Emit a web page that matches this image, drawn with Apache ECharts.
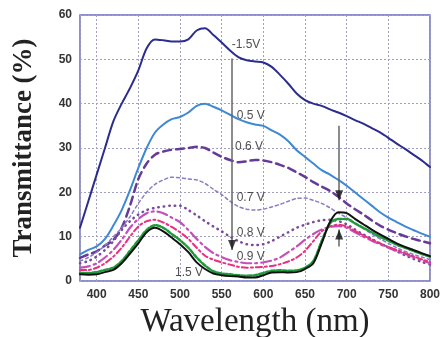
<!DOCTYPE html>
<html>
<head>
<meta charset="utf-8">
<script src="https://cdn.jsdelivr.net/npm/echarts@6/dist/echarts.min.js"></script>
<style>
  html, body { margin: 0; padding: 0; background: #fff; }
  #chart { width: 442px; height: 337px; }
</style>
</head>
<body>
<div id="chart"></div>
<script>
// wavelength grid (nm)
const wl = [380,390,400,410,420,430,440,450,460,470,480,490,500,510,520,530,540,550,560,570,
  580,590,600,610,620,630,640,650,660,670,680,690,700,710,720,730,740,750,760,770,780,790,800];

// transmittance (%) for each applied voltage
const tNeg15 = [12,18,24,30,36,40,43.5,47.5,52.5,54.5,54.3,54,54,54.5,56.5,57,55.5,53.8,52,50.5,
  49.8,49.5,49.3,48.3,46.5,44.5,42.3,40.8,40,39.5,38.7,38,37.2,36.3,35.5,34.5,33.5,32.3,31,29.8,28.5,27.2,25.7];
const t05 = [6,7,7.8,9.5,12.5,16,20.5,25.5,30,33.5,35.3,36.5,37,38,39.5,40,39.3,38.5,37.5,36.5,
  35.8,35.3,35,34,33,31.5,29.5,28,26.5,25,24,22.8,21.5,20,18.5,17,15.5,14.3,13.3,12.3,11.5,10.7,10];
const t06 = [5.2,6,6.7,8,9.3,12,17,23,26.5,28.5,29.2,29.6,29.8,30,30.3,30,29,28,27.3,26.8,
  27,27.3,27.2,26.8,26.2,25.5,24.5,23.5,22.3,21.3,20.3,19,17.5,16.2,15,13.7,12.5,11.6,10.8,10.1,9.5,9,8.5];
const t07 = [4.5,5.3,6.5,8,10,12,14.5,17.5,20,21.8,22.8,23.4,23.3,23,22.8,22,20.7,19.5,18,16.8,
  16.2,16,16.2,16.7,17.3,18,18.6,18.7,18.2,17.5,16.5,15.3,14.3,13,11.8,10.6,9.5,8.5,7.5,6.7,6,5.4,4.8];
const t08 = [4,4.5,5.5,7,9,11.5,13.5,15,16,16.5,16.8,17,17,16,14.8,13.5,12.3,11.2,10,9,
  8.3,8.1,8.3,9,10,11,12,12.7,13.3,13.7,13.8,13.5,12.8,11.6,10.5,9.5,8.5,7.6,6.7,5.8,5,4.3,3.7];
const t09 = [3,3.3,4,5.3,7,9.3,12,14,15.3,15.7,15.3,14.3,13.3,11.5,9.5,7.7,6.3,5.4,4.7,4.3,
  4,4,4.2,4.6,5.3,6.5,7.8,9.3,10.6,11.6,12.2,12.4,12,11,10,9.1,8.3,7.5,6.8,6.1,5.4,4.7,4];
const t10 = [2.5,2.5,3,4,5.5,7.5,10,12.3,13.5,13.8,13.2,12.2,11,9.5,7.5,5.7,4.8,4.2,3.7,3.2,
  3,3.1,3.2,3.4,3.8,4.4,5.3,6.8,9,11.2,12.3,12.7,12.3,11.3,10.3,9.4,8.5,7.7,7,6.3,5.6,4.9,4.3];
const t12 = [1.8,1.8,2,2.5,3,4.5,6.8,9.2,11.5,12.6,12,10.6,9.2,7.5,5.3,3.5,2.2,1.7,1.5,1.3,
  1.2,1.3,1.8,2.3,2.4,2.3,2.4,3,4.5,9,13,14,14,13,12,11,10,9.1,8.2,7.5,6.8,6.1,5.5];
const t15 = [1.5,1.4,1.5,2,2.5,4,6.2,8.5,11,12,11.2,9.8,8.3,6.5,4.2,2.7,1.7,1.3,1.1,1,
  0.8,0.8,1.3,1.9,2,1.9,2,2.7,4,8.5,13.3,15.5,15.3,14,12.8,11.6,10.5,9.5,8.5,7.7,7,6.3,5.6];

// curve labels: [wavelength, transmittance, text]
const notes = [
  [562, 53.2, '-1.5V'],
  [568, 37.4, '0.5 V'],
  [566, 30.2, '0.6 V'],
  [568, 18.7, '0.7 V'],
  [568, 10.8, '0.8 V'],
  [568, 5.4, '0.9 V'],
  [494, 1.8, '1.5 V']
];

// arrows: [wavelength, from, to]
const arrows = [
  [562.5, 50.2, 7.0],
  [691, 35, 18.2],
  [691, 7.8, 11.6]
];

const pairs = v => wl.map((x, i) => [x, v[i]]);

const chart = echarts.init(document.getElementById('chart'), null, { renderer: 'canvas' });

function curve(name, vals, color, width, dash) {
  return {
    name: name,
    type: 'line',
    data: pairs(vals),
    smooth: 0.3,
    showSymbol: false,
    silent: true,
    lineStyle: { color: color, width: width, type: dash || 'solid', cap: 'round' }
  };
}

const option = {
  animation: false,
  backgroundColor: '#fff',
  grid: {
    left: 80, right: 12, top: 15, bottom: 56,
    outerBoundsMode: 'none',
    show: true, borderColor: '#6b6bbf', borderWidth: 1.5
  },
  xAxis: {
    type: 'value',
    min: 380, max: 800,
    minInterval: 50, maxInterval: 50,
    name: 'Wavelength (nm)',
    nameLocation: 'middle',
    nameGap: 22,
    nameTextStyle: { fontFamily: 'Liberation Serif', fontSize: 33, color: '#222' },
    axisLine: { show: false },
    axisTick: { show: false },
    axisLabel: { showMinLabel: false, fontFamily: 'Liberation Sans', fontWeight: 'bold', fontSize: 12, color: '#333', margin: 8 },
    splitLine: { lineStyle: { color: '#a0a0c4', type: [2, 2], width: 1 } }
  },
  yAxis: {
    type: 'value',
    min: 0, max: 60, interval: 10,
    name: 'Transmittance (%)',
    nameLocation: 'middle',
    nameGap: 42,
    nameTextStyle: { fontFamily: 'Liberation Serif', fontWeight: 'bold', fontSize: 27, color: '#222' },
    axisLine: { show: false },
    axisTick: { show: false },
    axisLabel: { fontFamily: 'Liberation Sans', fontWeight: 'bold', fontSize: 12, color: '#333', margin: 8 },
    splitLine: { lineStyle: { color: '#a0a0c4', type: [2, 2], width: 1 } }
  },
  series: [
    curve('-1.5V', tNeg15, '#2c2c8e', 2),
    curve('0.5V', t05, '#3f88d4', 2),
    curve('0.6V', t06, '#663b98', 2.5, [8, 5]),
    curve('0.7V', t07, '#8a7cc4', 1.5, [3, 3]),
    curve('0.8V', t08, '#7a4a9c', 2.5, [0.5, 5]),
    curve('0.9V', t09, '#c24fba', 2.2, [10, 4, 2, 4]),
    curve('1.0V', t10, '#e8307f', 2, [6, 3, 2, 3]),
    curve('1.2V', t12, '#1f9a3c', 2.5, [4, 2]),
    curve('1.5V', t15, '#111111', 2),
    {
      name: 'notes',
      type: 'scatter',
      symbolSize: 0,
      silent: true,
      data: notes,
      label: {
        show: true,
        position: 'right',
        distance: 0,
        formatter: p => p.data[2],
        fontFamily: 'Liberation Sans',
        fontSize: 12,
        color: '#222'
      },
      markLine: {
        silent: true,
        symbol: 'none',
        label: { show: false },
        lineStyle: { color: '#666', type: 'solid', width: 1.5 },
        data: arrows.map(a => [{ coord: [a[0], a[1]] }, { coord: [a[0], a[2]] }])
      }
    },
    {
      name: 'heads',
      type: 'scatter',
      silent: true,
      symbol: 'triangle',
      symbolSize: [8, 10],
      itemStyle: { color: '#111' },
      data: arrows.map(a => {
        const down = a[2] < a[1];
        return {
          value: [a[0], a[2]],
          symbolRotate: down ? 180 : 0,
          symbolOffset: [0, down ? -5 : 5]
        };
      }),
      z: 5
    }
  ]
};

chart.setOption(option);
</script>
</body>
</html>
